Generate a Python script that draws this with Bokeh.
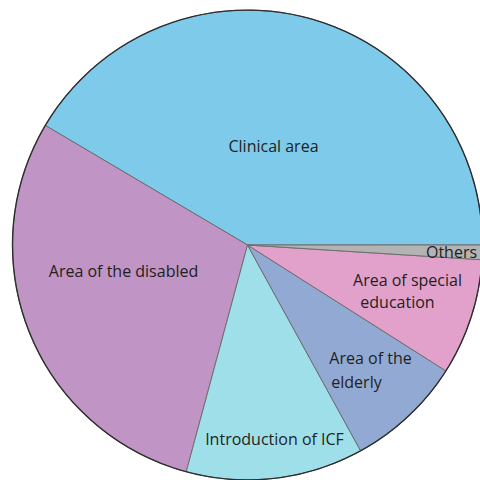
import math
from bokeh.plotting import figure
from bokeh.models import Range1d, ColumnDataSource
from bokeh.core.properties import value
from bokeh.embed import file_html
from bokeh.resources import INLINE

# ---- data ----
categories = ["Clinical area", "Area of the disabled", "Introduction of ICF",
              "Area of the elderly", "Area of special education", "Others"]
shares = [41.5, 29.3, 12.2, 8.0, 8.0, 1.0]
label_lines = [["Clinical area"], ["Area of the disabled"], ["Introduction of ICF"],
               ["Area of the", "elderly"], ["Area of special", "education"], ["Others"]]

# ---- style / layout ----
colors = ["#7ecaeb", "#c094c4", "#9fdfea", "#92aad3", "#e2a1cb", "#b3b3b3"]
# label line offsets from the pie centre (px, y up)
label_offsets = [[(26, 99.5)], [(-124, -25.5)], [(27, -193.5)],
                 [(123, -112.5), (109, -136.5)],
                 [(160, -34.5), (150, -56.5)], [(204, -6.5)]]
W = H = 480
CX, CY, R = 247, 235.5, 235
START = 0.0

total = sum(shares)
starts, ends = [], []
a = math.radians(START)
for s in shares:
    starts.append(a)
    a += 2 * math.pi * s / total
    ends.append(a)

src = ColumnDataSource(dict(cat=categories, start=starts, end=ends, color=colors))

p = figure(width=W, height=H, x_range=Range1d(0, W), y_range=Range1d(0, H),
           output_backend="svg", toolbar_location=None, min_border=0)
p.axis.visible = False
p.grid.visible = False
p.outline_line_color = None
p.background_fill_color = "white"
p.border_fill_color = "white"

p.wedge(x=CX, y=CY, radius=R, start_angle="start", end_angle="end",
        fill_color="color", line_color="#6e6e6e", line_width=1, source=src)
p.circle(x=[CX], y=[CY], radius=R, fill_color=None, line_color="#2e2e2e", line_width=1.4)

tx, ty, tt = [], [], []
for lines, offs in zip(label_lines, label_offsets):
    for line, (dx, dy) in zip(lines, offs):
        tx.append(CX + dx)
        ty.append(CY + dy)
        tt.append(line)
p.text(x=tx, y=ty, text=tt, text_align="center", text_baseline="middle",
       text_font=value("Open Sans"), text_font_size="16px", text_color="#231f20")

open("out.html", "w").write(file_html(p, INLINE))
